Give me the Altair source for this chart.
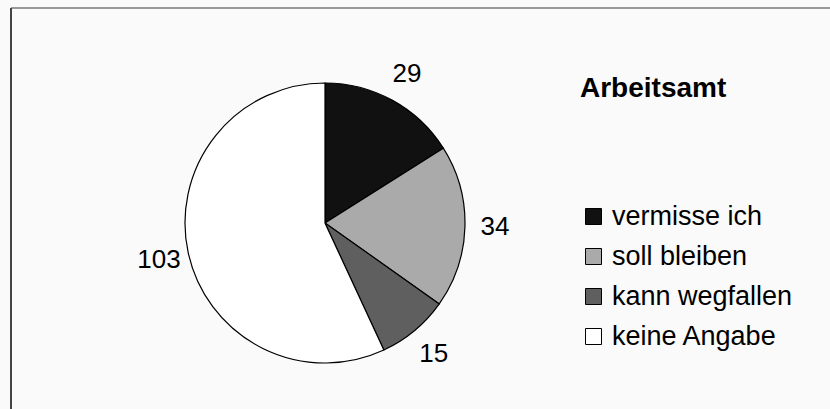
import altair as alt
import pandas as pd

categories = ["vermisse ich", "soll bleiben", "kann wegfallen", "keine Angabe"]
counts = [29, 34, 15, 103]
colors = ["#111111", "#aaaaaa", "#5f5f5f", "#ffffff"]
legend_title = "Arbeitsamt"

df = pd.DataFrame({"cat": categories, "count": counts, "idx": list(range(len(categories)))})

FONT = "Liberation Sans"
CX, CY = 325, 223

theta = alt.Theta("count:Q", stack=True)
order = alt.Order("idx:Q", sort="ascending")

arcs = alt.Chart(df).mark_arc(outerRadius=140, stroke="black", strokeWidth=1.2).encode(
    theta=theta,
    order=order,
    x=alt.value(CX),
    y=alt.value(CY),
    color=alt.Color(
        "cat:N",
        sort=categories,
        scale=alt.Scale(domain=categories, range=colors),
        legend=alt.Legend(
            title=legend_title,
            orient="none",
            legendX=580,
            legendY=75,
            titleFont=FONT,
            titleFontSize=28,
            titleFontWeight="bold",
            titleColor="black",
            titlePadding=100,
            titleLimit=400,
            labelFont=FONT,
            labelFontSize=27,
            labelColor="black",
            labelLimit=400,
            labelOffset=5,
            symbolType="square",
            symbolSize=256,
            symbolStrokeColor="black",
            symbolStrokeWidth=1,
            symbolOpacity=1,
            symbolOffset=0,
            rowPadding=12,
        ),
    ),
)

labels = alt.Chart(df).mark_text(radius=170, fontSize=26, font=FONT, color="black").encode(
    theta=theta,
    order=order,
    detail="cat:N",
    x=alt.value(CX),
    y=alt.value(CY),
    text="count:Q",
)

one = pd.DataFrame({"a": [0]})
top_line = alt.Chart(one).mark_rule(color="#999999", strokeWidth=2).encode(
    x=alt.value(11), x2=alt.value(830), y=alt.value(8)
)
left_line = alt.Chart(one).mark_rule(color="#444444", strokeWidth=2).encode(
    x=alt.value(11), y=alt.value(8), y2=alt.value(409)
)

chart = alt.layer(arcs, labels, top_line, left_line).properties(
    width=830,
    height=409,
    autosize=alt.AutoSizeParams(type="none"),
    padding=0,
    background="#fafafa",
).configure_view(stroke=None)

chart.save("out.html", embed_options={"renderer": "svg", "actions": False})
